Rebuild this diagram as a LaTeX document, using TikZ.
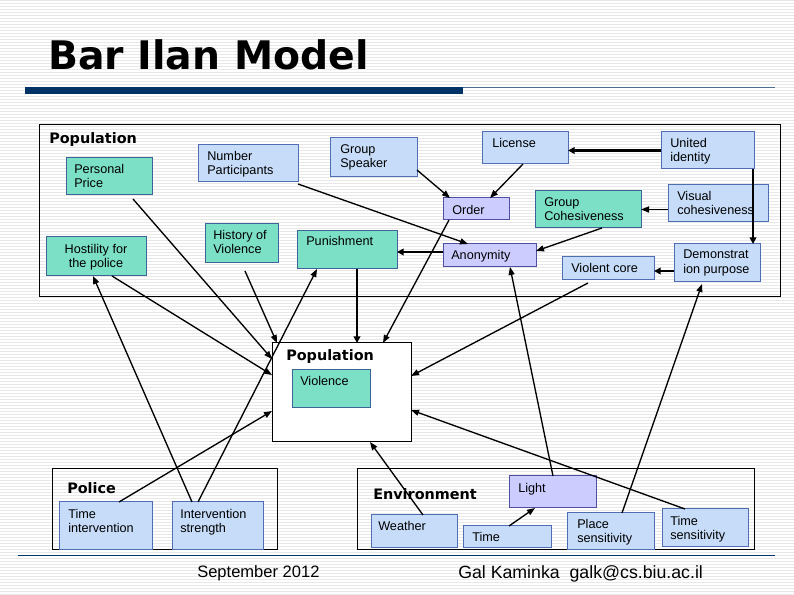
\documentclass[tikz,border=0pt]{standalone}
\usepackage{fontspec}
\setmainfont{Liberation Sans}
\newfontfamily\verd{DejaVu Sans}
\usetikzlibrary{arrows.meta,fit,calc}
\definecolor{bfill}{RGB}{198,220,248}
\definecolor{bdraw}{RGB}{80,110,180}
\definecolor{tfill}{RGB}{124,224,198}
\definecolor{tdraw}{RGB}{60,100,150}
\definecolor{lfill}{RGB}{204,204,255}
\definecolor{ldraw}{RGB}{80,80,160}
\definecolor{navy}{RGB}{0,51,102}
\definecolor{stripecol}{RGB}{232,232,232}
\tikzset{
  box/.style={draw, line width=0.75pt, inner sep=0pt, outer sep=0pt},
  bluebox/.style={box, fill=bfill, draw=bdraw},
  tealbox/.style={box, fill=tfill, draw=tdraw},
  lavbox/.style={box, fill=lfill, draw=ldraw},
  framebox/.style={draw=black, line width=0.75pt, inner sep=0pt, outer sep=0pt},
  txt/.style={inner sep=0pt, anchor=north west, align=left, font=\fontsize{9.5}{10.8}\selectfont},
  head/.style={inner sep=0pt, anchor=north west, font=\verd\bfseries\fontsize{10.8}{12}\selectfont},
  arr/.style={line width=1pt, -{Triangle[length=6pt,width=4.5pt]}},
  arrT/.style={line width=1.8pt, -{Triangle[length=5pt,width=5pt]}},
}
\newcommand\mybox[9]{%
  \node[#1, fit={(#3,#4) (#5,#6)}] (#2) {};
  \node[txt] (#2-t) at (#7,#8) {#9};
}
\begin{document}
\begin{tikzpicture}[x=0.75pt,y=-0.75pt]
\useasboundingbox (0,0) rectangle (794,595);
\fill[white] (0,0) rectangle (794,595);
\foreach \yy in {1,4,...,595} \draw[stripecol, line width=0.75pt] (0,\yy) -- (794,\yy);

% title
\node[anchor=north west, inner sep=0pt, font=\verd\bfseries\fontsize{29.5}{32}\selectfont] (title) at (48,39) {Bar Ilan Model};
\fill[navy] (25,87) rectangle (463,94);
\draw[navy!70, line width=0.75pt] (463,88) -- (775,88);
\draw[navy, line width=0.75pt] (18,555.5) -- (775,555.5);

% frames
\node[framebox, fit={(39,125) (780,297)}] (pop1) {};
\node[head] (pop1-t) at (49,132) {Population};
\node[framebox, fill=white, fit={(272,343) (411,442)}] (pop2) {};
\node[head] (pop2-t) at (286,349) {Population};
\node[framebox, fit={(52,469) (277,550)}] (police) {};
\node[head] (police-t) at (67,482) {Police};
\node[framebox, fit={(357,469) (754,550)}] (env) {};
\node[head] (env-t) at (373,488) {Environment};

% top boxes
\mybox{tealbox}{pp}{66}{158}{152}{195}{74}{164}{Personal\\Price}
\mybox{bluebox}{np}{198}{145}{298}{182}{207}{151}{Number\\Participants}
\mybox{bluebox}{gs}{330}{138}{417}{177}{340}{144}{Group\\Speaker}
\mybox{tealbox}{hv}{205}{224}{278}{263}{213}{230}{History of\\Violence}
\mybox{tealbox}{pun}{297}{231}{397}{269}{306}{236}{Punishment}
\node[tealbox, fit={(46,237) (146,276)}] (hos) {};
\node[txt, anchor=north, align=center] (hos-t) at (96,244) {Hostility for\\the police};
\mybox{bluebox}{lic}{482}{132}{568}{164}{492}{138}{License}
\mybox{bluebox}{ui}{661}{132}{754}{169}{670}{138}{United\\identity}
\mybox{lavbox}{ord}{443}{198}{509}{220}{452}{205}{Order}
\mybox{tealbox}{gc}{535}{191}{641}{228}{544}{197}{Group\\Cohesiveness}
\mybox{bluebox}{vc}{668}{185}{768}{222}{677}{191}{Visual\\cohesiveness}
\mybox{lavbox}{ano}{443}{244}{536}{267}{451}{250}{Anonymity}
\mybox{bluebox}{vcore}{562}{257}{654}{280}{571}{263}{Violent core}
\mybox{bluebox}{dp}{674}{244}{760}{282}{683}{250}{Demonstrat\\ion purpose}

% middle
\mybox{tealbox}{vio}{292}{370}{370}{408}{300}{376}{Violence}

% police
\mybox{bluebox}{ti}{59}{502}{152}{550}{68}{509}{Time\\intervention}
\mybox{bluebox}{is}{172}{502}{263}{550}{180}{509}{Intervention\\strength}

% environment
\mybox{bluebox}{wea}{371}{515}{457}{548}{378}{521}{Weather}
\mybox{bluebox}{time}{463}{526}{551}{548}{472}{532}{Time}
\mybox{lavbox}{light}{509}{476}{596}{508}{518}{483}{Light}
\mybox{bluebox}{ps}{567}{513}{654}{550}{577}{519}{Place\\sensitivity}
\mybox{bluebox}{ts}{662}{509}{748}{547}{670}{516}{Time\\sensitivity}

% footer
\node[anchor=north west, inner sep=0pt, font=\fontsize{12.4}{14}\selectfont] (date) at (197,565) {September 2012};
\node[anchor=north west, inner sep=0pt, font=\fontsize{13.3}{15}\selectfont] (author) at (458,565) {Gal Kaminka\ \ galk@cs.biu.ac.il};

% connectors
\draw[arrT] (ui.west) -- (ui.west -| lic.east);
\draw[arrT, line width=1.4pt] (ui.south -| 753,0) -- (dp.north -| 753,0);
\draw[arr, line width=1.2pt] (vc.west |- gc.east) -- (gc.east);
\draw[arrT] (dp.west |- 0,271) -- (vcore.east |- 0,271);
\draw[arr] (lic.south -| 523,0) -- (ord.north -| 490,0);
\draw[arr] (gs.east |- 0,170) -- (ord.north -| 450,0);
\draw[arr] (gc.south -| 602,0) -- (ano.east |- 0,251);
\draw[arr] (np.east |- 0,184) -- (ano.north -| 468,0);
\draw[arrT] (ano.west |- 0,252) -- (pun.east |- 0,252);
\draw[arr] (ord.south -| 449,0) -- (pop2.north -| 383,0);
\draw[arrT] (pun.south -| 357,0) -- (pop2.north -| 357,0);
\draw[arr] (is.north -| 198,0) -- (pun.south -| 317,0);
\draw[arr] (is.north -| 192,0) -- (hos.south -| 93,0);
\draw[arr] (hos.south -| 112,0) -- (pop2.west |- 0,375);
\draw[arr] ($(pp.south -| 133,0)+(0,4)$) -- (pop2.west |- 0,359);
\draw[arr] ($(hv.south -| 245,0)+(0,8)$) -- (pop2.north -| 277,0);
\draw[arr] (ti.north -| 119,0) -- (pop2.west |- 0,411);
\draw[arr] ($(vcore.south -| 588,0)+(0,3)$) -- (pop2.east |- 0,376);
\draw[arr] (light.north -| 553,0) -- (ano.south -| 510,0);
\draw[arr] (ps.north -| 622,0) -- ($(dp.south -| 702,0)+(0,2)$);
\draw[arr] (ts.north -| 685,0) -- (pop2.east |- 0,410);
\draw[arr] (wea.north -| 423,0) -- (pop2.south -| 370,0);
\draw[arr] (time.north -| 509,0) -- (light.south -| 535,0);
\end{tikzpicture}
\end{document}
